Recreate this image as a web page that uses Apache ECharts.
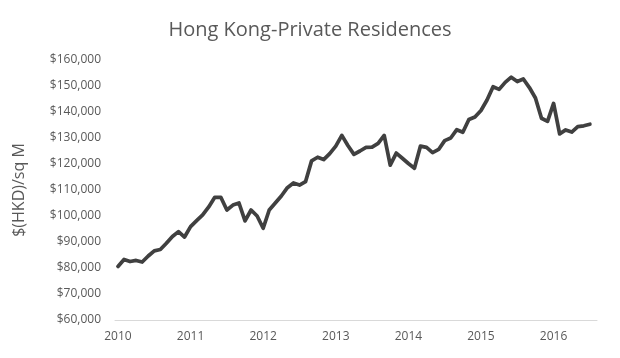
<!DOCTYPE html>
<html>
<head>
<meta charset="utf-8">
<script src="https://cdn.jsdelivr.net/npm/echarts@6/dist/echarts.min.js"></script>
<style>html,body{margin:0;padding:0;background:#fff}#c{width:620px;height:358px}</style>
</head>
<body>
<div id="c"></div>
<script>
const titleText = 'Hong Kong-Private Residences';
const yAxisName = '$(HKD)/sq M';
const startYear = 2010; // first monthly observation: Jan 2010
const yearTicks = [2010, 2011, 2012, 2013, 2014, 2015, 2016];
// Monthly price, $(HKD)/sq M, Jan 2010 .. Jul 2016
const prices = [
  80600, 83300, 82500, 82900, 82300, 84600, 86600, 87100, 89500, 92100, 94000, 91900,
  95900, 98200, 100400, 103500, 107200, 107200, 102300, 104200, 105000, 98100, 102300, 100000,
  95300, 102300, 105000, 107700, 110900, 112700, 111900, 113200, 121200, 122600, 121700, 124000,
  126900, 131000, 127100, 123700, 125000, 126400, 126500, 127900, 131000, 119600, 124200, 122200,
  120200, 118400, 126900, 126400, 124400, 125600, 129000, 130000, 133200, 132200, 137100, 138100,
  140600, 144600, 149700, 148700, 151400, 153400, 151700, 152700, 149400, 145400, 137600, 136400,
  143300, 131600, 133100, 132300, 134400, 134700, 135300
];

const data = prices.map((v, i) => [startYear + i / 12, v]);
const chart = echarts.init(document.getElementById('c'), null, {renderer: 'canvas'});
const font = 'Open Sans';
chart.setOption({
  animation: false,
  title: {
    text: titleText, left: 'center', top: 15,
    textStyle: {fontFamily: font, fontSize: 20, fontWeight: 'normal', color: '#595959'}
  },
  grid: {left: 115, right: 23, top: 60, bottom: 38, containLabel: false},
  xAxis: {
    type: 'value', min: 2009.959, max: 2016.598,
    axisLine: {show: true, lineStyle: {color: '#d9d9d9', width: 1}},
    axisTick: {show: false},
    splitLine: {show: false},
    axisLabel: {
      customValues: yearTicks, margin: 11,
      fontFamily: font, fontSize: 12, color: '#595959',
      formatter: v => String(Math.round(v))
    }
  },
  yAxis: {
    type: 'value', min: 60000, max: 160000, interval: 10000,
    name: yAxisName, nameLocation: 'middle', nameGap: 88, nameRotate: 90,
    nameTextStyle: {fontFamily: font, fontSize: 16, color: '#595959'},
    axisLine: {show: false}, axisTick: {show: false},
    splitLine: {show: false},
    axisLabel: {
      margin: 14, fontFamily: font, fontSize: 12, color: '#595959',
      formatter: v => '$' + v.toLocaleString('en-US')
    }
  },
  series: [{
    type: 'line', data: data, showSymbol: false, symbol: 'none',
    lineStyle: {color: '#404040', width: 3.75, join: 'round', cap: 'round'}
  }]
});
</script>
</body>
</html>
